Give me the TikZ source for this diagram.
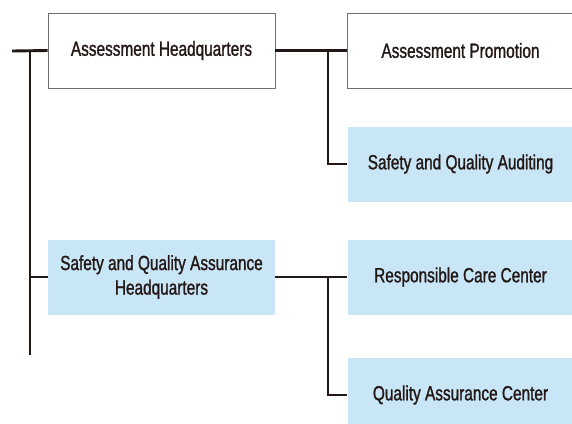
\documentclass[tikz,border=0pt]{standalone}
\usepackage{fontspec}
\newfontfamily\condfont[FakeStretch=0.75,FakeBold=1.2]{Liberation Sans}
\definecolor{ink}{HTML}{231815}
\definecolor{boxblue}{HTML}{C9E6F7}
\definecolor{edge}{HTML}{707070}
\begin{document}
\begin{tikzpicture}[x=1pt,y=-1pt,
  unit/.style={minimum width=227pt,minimum height=75pt,inner sep=0pt,align=center,
    font=\condfont\fontsize{20.5}{24.5}\selectfont,text=ink},
  plain/.style={unit,draw=edge,line width=0.9pt,fill=white},
  blue/.style={unit,fill=boxblue},
  conn/.style={draw=ink,line width=2.9pt}]
\useasboundingbox (0,0) rectangle (572,423);
\clip (0,0) rectangle (572,423);
\node[plain] (ah) at (161.5,50.5) {Assessment Headquarters};
\node[plain,minimum width=226pt] (ap) at (460.5,50.5) {Assessment Promotion};
\node[blue,minimum width=226pt] (sqa) at (460.5,164) {Safety and Quality Auditing};
\node[blue] (sqah) at (161.5,277) {Safety and Quality Assurance\\Headquarters};
\node[blue,minimum width=226pt] (rcc) at (460.5,277) {Responsible Care Center};
\node[blue,minimum width=226pt] (qac) at (460.5,395) {Quality Assurance Center};
\coordinate (stub) at (12,51);
\coordinate (ttop) at (30,51);
\coordinate (tbot) at (30,355);
\coordinate (b1) at (328,51);
\coordinate (b2) at (328,277);
\draw[conn] (stub) -- (ah.west);
\draw[conn] (ttop) -- (tbot);
\draw[conn] (sqah.west) -- (sqah.west -| ttop);
\draw[conn] (ah.east) -- (ap.west);
\draw[conn] (b1) |- (sqa.west);
\draw[conn] (sqah.east) -- (rcc.west);
\draw[conn] (b2) |- (qac.west);
\end{tikzpicture}
\end{document}
